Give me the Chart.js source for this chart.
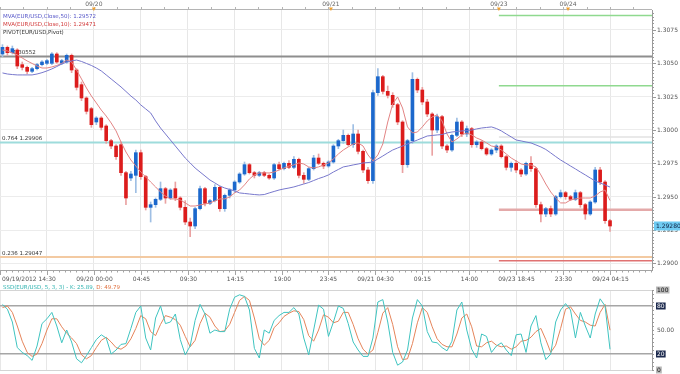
<!DOCTYPE html>
<html><head><meta charset="utf-8">
<script src="https://cdn.jsdelivr.net/npm/chart.js@4.4.1/dist/chart.umd.min.js"></script>
<style>
html,body{margin:0;padding:0;background:#fff;}
#wrap{position:relative;width:680px;height:374px;overflow:hidden;background:#fff;}
#c1{position:absolute;left:0;top:0;}
#c2{position:absolute;left:0;top:282px;}
</style></head><body>
<div id="wrap"><canvas id="c1" width="680" height="282"></canvas><canvas id="c2" width="680" height="92"></canvas></div>
<script>
// ---------------- DATA ----------------
const opens = [1.3057,1.3062,1.3058,1.3060,1.3049,1.3047,1.3044,1.3046,1.3049,1.3050,
1.3050,1.3057,1.3050,1.3051,1.3056,1.3045,1.3034,1.3024,1.3016,1.3006,
1.3009,1.3003,1.2992,1.2988,1.2989,1.2968,1.2964,1.2966,1.2983,1.2965,
1.2942,1.2944,1.2948,1.2956,1.2949,1.2956,1.2949,1.2942,1.2931,1.2928,
1.2941,1.2956,1.2945,1.2947,1.2957,1.2941,1.2951,1.2955,1.2961,1.2967,
1.2974,1.2968,1.2966,1.2968,1.2966,1.2964,1.2974,1.2971,1.2975,1.2972,
1.2978,1.2966,1.2963,1.2971,1.2979,1.2975,1.2973,1.2976,1.2988,1.2992,
1.2996,1.2989,1.2997,1.2984,1.2970,1.2962,1.3028,1.3040,1.3029,1.3026,
1.3019,1.3006,1.2974,1.2992,1.3038,1.3030,1.3021,1.3012,1.3000,1.3010,
1.2988,1.2985,1.2996,1.3006,1.2997,1.3001,1.2989,1.2991,1.2986,1.2982,
1.2985,1.2988,1.2980,1.2972,1.2975,1.2970,1.2967,1.2975,1.2971,1.2944,
1.2937,1.2941,1.2937,1.2950,1.2953,1.2950,1.2948,1.2953,1.2944,1.2937,
1.2946,1.2970,1.2961,1.2932];
const highs = [1.3064,1.3063,1.3063,1.3061,1.3051,1.3048,1.3047,1.3050,1.3052,1.3053,
1.3058,1.3058,1.3053,1.3057,1.3057,1.3046,1.3036,1.3025,1.3017,1.3010,
1.3010,1.3004,1.2993,1.2989,1.2991,1.2969,1.2969,1.2985,1.2985,1.2966,
1.2946,1.2949,1.2961,1.2957,1.2956,1.2961,1.2950,1.2947,1.2934,1.2942,
1.2958,1.2957,1.2948,1.2959,1.2958,1.2952,1.2956,1.2962,1.2968,1.2976,
1.2975,1.2969,1.2969,1.2969,1.2967,1.2975,1.2976,1.2976,1.2977,1.2980,
1.2979,1.2968,1.2972,1.2981,1.2982,1.2976,1.2977,1.2989,1.2993,1.3000,
1.2997,1.3004,1.3000,1.2985,1.2972,1.3030,1.3046,1.3041,1.3033,1.3028,
1.3020,1.3007,1.2993,1.3043,1.3039,1.3032,1.3023,1.3013,1.3012,1.3011,
1.2989,1.2997,1.3009,1.3007,1.3003,1.3002,1.2992,1.2992,1.2987,1.2986,
1.2989,1.2989,1.2981,1.2976,1.2977,1.2971,1.2976,1.2980,1.2972,1.2946,
1.2942,1.2943,1.2951,1.2955,1.2954,1.2951,1.2955,1.2954,1.2945,1.2947,
1.2972,1.2972,1.2962,1.2933];
const lows = [1.3055,1.3056,1.3057,1.3046,1.3045,1.3042,1.3043,1.3045,1.3048,1.3049,
1.3049,1.3050,1.3049,1.3050,1.3043,1.3030,1.3022,1.3012,1.3002,1.3004,
1.3000,1.2990,1.2986,1.2978,1.2966,1.2944,1.2962,1.2953,1.2963,1.2940,
1.2931,1.2942,1.2947,1.2945,1.2948,1.2947,1.2940,1.2929,1.2920,1.2926,
1.2940,1.2943,1.2944,1.2946,1.2939,1.2939,1.2949,1.2953,1.2960,1.2966,
1.2967,1.2964,1.2965,1.2965,1.2963,1.2963,1.2970,1.2970,1.2971,1.2971,
1.2964,1.2960,1.2962,1.2970,1.2974,1.2971,1.2972,1.2975,1.2986,1.2990,
1.2988,1.2987,1.2982,1.2968,1.2960,1.2960,1.3026,1.3027,1.3024,1.3017,
1.3004,1.2968,1.2972,1.2990,1.3028,1.3019,1.3010,1.2981,1.2998,1.2986,
1.2983,1.2984,1.2995,1.2995,1.2995,1.2987,1.2987,1.2985,1.2981,1.2981,
1.2983,1.2979,1.2970,1.2969,1.2968,1.2965,1.2966,1.2969,1.2942,1.2931,
1.2935,1.2935,1.2936,1.2949,1.2948,1.2947,1.2947,1.2942,1.2933,1.2936,
1.2945,1.2959,1.2930,1.2924];
const closes = [1.3062,1.3058,1.3061,1.3048,1.3047,1.3044,1.3046,1.3049,1.3051,1.3052,
1.3057,1.3051,1.3052,1.3056,1.3045,1.3032,1.3024,1.3014,1.3004,1.3009,
1.3002,1.2992,1.2988,1.2980,1.2968,1.2949,1.2967,1.2983,1.2965,1.2942,
1.2944,1.2948,1.2956,1.2949,1.2955,1.2949,1.2942,1.2931,1.2928,1.2941,
1.2956,1.2945,1.2947,1.2957,1.2941,1.2951,1.2955,1.2961,1.2967,1.2974,
1.2968,1.2966,1.2968,1.2966,1.2964,1.2974,1.2971,1.2975,1.2972,1.2978,
1.2966,1.2963,1.2971,1.2979,1.2975,1.2973,1.2976,1.2988,1.2992,1.2996,
1.2989,1.2997,1.2984,1.2970,1.2962,1.3028,1.3040,1.3029,1.3026,1.3019,
1.3006,1.2974,1.2992,1.3038,1.3030,1.3021,1.3012,1.3000,1.3010,1.2988,
1.2985,1.2996,1.3006,1.2997,1.3001,1.2989,1.2991,1.2986,1.2982,1.2985,
1.2988,1.2980,1.2972,1.2975,1.2970,1.2967,1.2975,1.2971,1.2944,1.2937,
1.2941,1.2937,1.2950,1.2953,1.2950,1.2948,1.2953,1.2944,1.2937,1.2946,
1.2970,1.2961,1.2932,1.2928];
const ma50 = [1.30428,1.3042,1.30416,1.30413,1.30413,1.30413,1.30413,1.3042,1.3043,1.30443,
1.30458,1.30476,1.30495,1.3051,1.30518,1.30525,1.30514,1.30499,1.30484,1.30465,
1.30443,1.30413,1.30383,1.30353,1.30323,1.30289,1.30255,1.30225,1.30188,1.30158,
1.30128,1.30068,1.30015,1.2997,1.29925,1.2988,1.29835,1.2979,1.29753,1.29715,
1.29685,1.29655,1.29625,1.29603,1.2958,1.29565,1.29554,1.29543,1.29528,1.29524,
1.2952,1.29516,1.29513,1.29516,1.29528,1.29539,1.2955,1.29558,1.29565,1.29573,
1.29584,1.29595,1.29606,1.29621,1.29636,1.29648,1.29663,1.29685,1.29704,1.29723,
1.2973,1.29738,1.29745,1.29753,1.29756,1.2976,1.29783,1.29805,1.29828,1.2985,
1.29865,1.2988,1.29895,1.2991,1.29925,1.2994,1.29955,1.29959,1.29963,1.29966,
1.29978,1.29985,1.29989,1.29993,1.29996,1.3,1.30008,1.30015,1.30019,1.30023,
1.30011,1.29993,1.2997,1.29948,1.29925,1.29918,1.2991,1.29903,1.29888,1.29873,
1.29854,1.29828,1.29801,1.29775,1.29753,1.2973,1.29708,1.29685,1.29663,1.2964,
1.29618,1.29603,1.29588,1.29572];
const ma10 = [1.306,1.30593,1.30578,1.30563,1.3054,1.30518,1.30499,1.3048,1.30465,1.30465,
1.30473,1.30484,1.30499,1.30525,1.3051,1.3045,1.30383,1.30315,1.30255,1.30203,
1.3015,1.30105,1.30053,1.29993,1.2991,1.29835,1.29775,1.2973,1.29685,1.29648,
1.2961,1.29573,1.29535,1.29505,1.29483,1.29483,1.29475,1.29453,1.2943,1.2943,
1.29438,1.29445,1.29453,1.29468,1.29483,1.29483,1.29498,1.29528,1.2955,1.29588,
1.29633,1.29663,1.29678,1.29678,1.29678,1.29685,1.297,1.29715,1.2973,1.29738,
1.29753,1.29745,1.29723,1.29715,1.29723,1.29738,1.29753,1.29783,1.2982,1.2985,
1.29873,1.29895,1.29903,1.2988,1.29813,1.29768,1.29813,1.29895,1.3006,1.30195,
1.30248,1.30165,1.30023,1.29978,1.29985,1.30023,1.30068,1.30098,1.30113,1.30068,
1.2997,1.2991,1.29933,1.29963,1.29978,1.29963,1.2994,1.29925,1.29903,1.2988,
1.29873,1.2985,1.2982,1.2979,1.29768,1.29745,1.29738,1.29738,1.29723,1.29663,
1.29595,1.29535,1.2949,1.29453,1.29453,1.29475,1.29483,1.2949,1.2949,1.2949,
1.29505,1.29535,1.2955,1.29471];
const stochK = [82,76,60,28,22,18,12,30,58,64,
72,55,34,50,35,14,9,18,28,38,
44,40,20,25,32,33,52,72,80,40,
25,65,80,58,60,70,38,19,30,62,
82,70,46,50,48,48,76,91,94,92,
75,27,15,50,46,62,68,72,72,78,
70,40,19,50,81,76,42,60,80,77,
58,35,25,17,17,40,85,88,60,22,
6,10,25,65,88,80,48,35,34,28,
24,36,75,85,50,26,15,45,42,22,
30,34,25,18,44,45,22,55,68,34,
13,20,60,75,83,75,40,72,55,40,
70,89,80,25.89];
const stochD = [78,80,72,55,36,22,17,20,33,50,
64,64,54,46,40,33,19,14,18,28,
37,41,35,28,26,30,39,52,68,64,
48,43,57,68,66,63,56,42,29,37,
58,71,66,55,48,49,57,72,87,92,
87,65,39,31,37,53,59,67,71,74,
73,63,43,36,50,69,66,59,61,72,
72,57,39,26,20,25,47,71,78,57,
29,13,14,33,59,78,72,54,39,32,
29,29,45,65,70,54,30,29,34,36,
31,29,30,26,29,36,37,41,48,52,
38,22,31,52,76,79,70,62,60,56,
55,72,82,49.79];
const fibLevels = [1.30552, 1.29906, 1.29047];
const fibNames = ['', '0.764', '0.236'];
const pivotLevels = [1.30859, 1.30331, 1.29947, 1.29402, 1.29020];
const priceTicks = [1.2900,1.2925,1.2950,1.2975,1.3000,1.3025,1.3050,1.3075];
const stochTicks = [0,20,50,80,100];
const timeTickIndex = [-0.5,9,18.5,28,37.5,47,56.5,66,75.5,85,94.5,104,113.5,123];
const timeLabels = ['09/19/2012 14:30','','09/20 00:00','04:45','09:30','14:15','19:00','23:45','09/21 04:30','09:15','14:00','09/23 18:45','23:30','09/24 04:15'];
const dayIndex = [18.5, 66.5, 100.5, 114.5];
const dayLabels = ['09/20','09/21','09/23','09/24'];
const sessionStartIndex = 100.5;
const SLOTS = 132;

// ---------------- STYLE ----------------
const FONT = '5.5px "DejaVu Sans", sans-serif';
const AXFONT = '6px "DejaVu Sans", sans-serif';
const BLUE = '#1c68cc', RED = '#dc1c1c', BLUE_W = '#9fbfe4', RED_W = '#eaa2a2';
const N = closes.length;
const idx = closes.map((_, i) => i);
const XMIN = -0.5, XMAX = SLOTS - 0.5;

function txt(ctx, s, x, y, color, align, font) {
  ctx.font = font || FONT; ctx.fillStyle = color; ctx.textAlign = align || 'left';
  ctx.textBaseline = 'middle'; ctx.fillText(s, x, y);
}
function hl(ctx, x1, x2, y) { ctx.beginPath(); ctx.moveTo(x1, y); ctx.lineTo(x2, y); ctx.stroke(); }
function vl(ctx, x, y1, y2) { ctx.beginPath(); ctx.moveTo(x, y1); ctx.lineTo(x, y2); ctx.stroke(); }

function level(v, color, width, from) {
  return { type: 'line', data: [{ x: from, y: v }, { x: XMAX, y: v }], borderColor: color, borderWidth: width,
    pointRadius: 0, order: 10, clip: 0 };
}

const levelSets = [
  level(fibLevels[0], '#8e8e8e', 2, XMIN),
  level(fibLevels[1], '#9edcdc', 2, XMIN),
  level(fibLevels[2], '#f3caa2', 2, XMIN),
  level(pivotLevels[0], '#8fd98f', 1.5, sessionStartIndex),
  level(pivotLevels[1], '#8fd98f', 1.5, sessionStartIndex),
  level(pivotLevels[2], '#e2e2e2', 1.5, sessionStartIndex),
  level(pivotLevels[3], '#e4a9a9', 2.5, sessionStartIndex),
  level(pivotLevels[4], '#e07272', 1.5, sessionStartIndex)
];

const mainDecor = {
  id: 'mainDecor',
  beforeDatasetsDraw(chart) {
    const { ctx, scales: { y } } = chart;
    ctx.save();
    fibLevels.forEach((v, k) => {
      const py = y.getPixelForValue(v) - 3.5;
      const label = (fibNames[k] ? fibNames[k] + ' ' : '') + v.toFixed(5);
      txt(ctx, label, fibNames[k] ? 2 : 13, py, '#333');
    });
    ctx.restore();
  },
  afterDraw(chart) {
    const { ctx, chartArea: a, scales: { x, y } } = chart;
    ctx.save();
    ctx.lineWidth = 1;
    // top axis
    ctx.strokeStyle = '#b4b4b4';
    hl(ctx, a.left, a.right, a.top - 0.5);
    for (let v = XMIN; v <= XMAX; v += 4.75) {
      const px = Math.round(x.getPixelForValue(v)) + 0.5;
      vl(ctx, px, a.top - 3, a.top);
    }
    dayIndex.forEach((d, k) => {
      const px = x.getPixelForValue(d);
      txt(ctx, dayLabels[k], px, 4, '#666', 'center', AXFONT);
      ctx.fillStyle = '#f0a030';
      ctx.beginPath(); ctx.moveTo(px - 2, 7.5); ctx.lineTo(px + 2, 7.5); ctx.lineTo(px, 11); ctx.closePath(); ctx.fill();
    });
    // bottom axis
    ctx.strokeStyle = '#a4a4a4';
    hl(ctx, a.left, a.right, a.bottom + 0.5);
    for (let v = XMIN; v <= XMAX; v += 9.5 / 8) {
      const px = Math.round(x.getPixelForValue(v)) + 0.5;
      vl(ctx, px, a.bottom, a.bottom + 2.5);
    }
    timeTickIndex.forEach((t, k) => {
      const px = Math.round(x.getPixelForValue(t)) + 0.5;
      vl(ctx, px, a.bottom, a.bottom + 5);
      if (!timeLabels[k]) return;
      if (k === 0) txt(ctx, timeLabels[k], 2, a.bottom + 9.5, '#555', 'left', AXFONT);
      else txt(ctx, timeLabels[k], px, a.bottom + 9.5, '#555', 'center', AXFONT);
    });
    // right axis ticks + labels
    ctx.strokeStyle = '#9a9a9a';
    for (let v = 1.2895; v <= 1.3090; v += 0.00025) {
      const py = Math.round(y.getPixelForValue(v)) + 0.5;
      if (py < a.top || py > a.bottom) continue;
      hl(ctx, a.right, a.right + 2, py);
    }
    priceTicks.forEach(v => {
      const py = Math.round(y.getPixelForValue(v)) + 0.5;
      hl(ctx, a.right, a.right + 4, py);
      txt(ctx, v.toFixed(4), a.right + 5, py, '#555', 'left', AXFONT);
    });
    // last price box
    const lp = closes[N - 1];
    const ly = y.getPixelForValue(lp);
    ctx.fillStyle = '#6fcbf2';
    ctx.fillRect(a.right + 2, ly - 4.5, 26, 9);
    txt(ctx, lp.toFixed(5), a.right + 4, ly, '#0d2040', 'left', AXFONT);
    // indicator legend
    txt(ctx, 'MVA(EUR/USD,Close,50): ' + ma50[N - 1].toFixed(5), 3, 17, '#5656c8', 'left');
    txt(ctx, 'MVA(EUR/USD,Close,10): ' + ma10[N - 1].toFixed(5), 3, 25, '#d23a3a', 'left');
    txt(ctx, 'PIVOT(EUR/USD,Pivot)', 3, 33, '#333', 'left');
    ctx.restore();
  }
};

Chart.defaults.font.family = '"DejaVu Sans", sans-serif';

new Chart(document.getElementById('c1'), {
  type: 'bar',
  data: {
    datasets: [
      ...levelSets,
      { type: 'bar', data: idx.map(i => ({ x: i, y: [lows[i], highs[i]] })),
        backgroundColor: idx.map(i => closes[i] >= opens[i] ? BLUE_W : RED_W),
        barThickness: 1, grouped: false, minBarLength: 1, order: 6 },
      { type: 'bar', data: idx.map(i => ({ x: i, y: [opens[i], closes[i]] })),
        backgroundColor: idx.map(i => closes[i] >= opens[i] ? BLUE : RED),
        barThickness: 3, grouped: false, minBarLength: 1, order: 5 },
      { type: 'line', data: ma10.map((v, i) => ({ x: i, y: v })), borderColor: '#e28484', borderWidth: 1,
        pointRadius: 0, order: 2 },
      { type: 'line', data: ma50.map((v, i) => ({ x: i, y: v })), borderColor: '#7878cc', borderWidth: 1,
        pointRadius: 0, order: 1 }
    ]
  },
  options: {
    responsive: false, animation: false, devicePixelRatio: 1, events: [],
    layout: { padding: 0 },
    plugins: { legend: { display: false }, tooltip: { enabled: false } },
    scales: {
      x: { type: 'linear', position: 'bottom', min: XMIN, max: XMAX, offset: false,
        afterBuildTicks: s => { s.ticks = timeTickIndex.map(v => ({ value: v })); },
        grid: { color: '#e7e7e7', drawTicks: false, offset: false }, border: { display: false },
        ticks: { display: false }, afterFit: s => { s.height = 12; } },
      xTop: { type: 'linear', position: 'top', min: XMIN, max: XMAX, offset: false,
        grid: { display: false }, border: { display: false }, ticks: { display: false },
        afterFit: s => { s.height = 10; } },
      y: { type: 'linear', position: 'right', min: 1.2895, max: 1.3090,
        afterBuildTicks: s => { s.ticks = priceTicks.map(v => ({ value: v })); },
        grid: { color: '#ececec', drawTicks: false }, border: { display: true, color: '#9a9a9a' },
        ticks: { display: false }, afterFit: s => { s.width = 28; } }
    }
  },
  plugins: [mainDecor]
});

const stochDecor = {
  id: 'stochDecor',
  afterDraw(chart) {
    const { ctx, chartArea: a, scales: { y } } = chart;
    ctx.save();
    const head = 'SSD(EUR/USD, 5, 3, 3) - K: ' + stochK[N - 1].toFixed(2) + ', ';
    ctx.font = FONT;
    txt(ctx, head, 3, a.top - 2.5, '#2fb3b0', 'left');
    const w = ctx.measureText(head).width;
    txt(ctx, 'D: ' + stochD[N - 1].toFixed(2), 3 + w, a.top - 2.5, '#e0703e', 'left');
    ctx.strokeStyle = '#9a9a9a'; ctx.lineWidth = 1;
    for (let v = 0; v <= 100; v += 5) {
      const py = Math.round(y.getPixelForValue(v)) + 0.5;
      hl(ctx, a.right, a.right + 2, py);
    }
    stochTicks.forEach(v => {
      const py = y.getPixelForValue(v);
      const s = v === 50 ? '50.00' : String(v);
      if (v === 50) { txt(ctx, s, a.right + 5, py, '#555', 'left', AXFONT); return; }
      ctx.font = AXFONT;
      const tw = ctx.measureText(s).width;
      ctx.fillStyle = (v === 80 || v === 20) ? '#1d2a4e' : '#b9b9b9';
      ctx.fillRect(a.right + 4, py - 3.5, tw + 2, 7);
      txt(ctx, s, a.right + 5, py, (v === 80 || v === 20) ? '#ffffff' : '#111', 'left', AXFONT);
    });
    ctx.restore();
  }
};

new Chart(document.getElementById('c2'), {
  type: 'line',
  data: {
    datasets: [
      { data: stochK.map((v, i) => ({ x: i, y: v })), borderColor: '#3fc4c0', borderWidth: 1, pointRadius: 0, order: 1 },
      { data: stochD.map((v, i) => ({ x: i, y: v })), borderColor: '#e5845a', borderWidth: 1, pointRadius: 0, order: 2 }
    ]
  },
  options: {
    responsive: false, animation: false, devicePixelRatio: 1, events: [],
    layout: { padding: { top: 8 } },
    plugins: { legend: { display: false }, tooltip: { enabled: false } },
    scales: {
      x: { type: 'linear', min: XMIN, max: XMAX, offset: false,
        afterBuildTicks: s => { s.ticks = timeTickIndex.map(v => ({ value: v })); },
        grid: { color: '#e7e7e7', drawTicks: false }, border: { display: false },
        ticks: { display: false }, afterFit: s => { s.height = 4; } },
      y: { type: 'linear', position: 'right', min: 0, max: 100,
        afterBuildTicks: s => { s.ticks = stochTicks.map(v => ({ value: v })); },
        grid: { drawTicks: false,
          color: c => (c.tick.value === 80 || c.tick.value === 20) ? '#a6a6a6' : (c.tick.value === 50 ? 'rgba(0,0,0,0)' : '#d4d4d4'),
          lineWidth: c => (c.tick.value === 80 || c.tick.value === 20) ? 1.5 : 1 },
        border: { display: true, color: '#9a9a9a' },
        ticks: { display: false }, afterFit: s => { s.width = 28; } }
    }
  },
  plugins: [stochDecor]
});
</script>
</body></html>
